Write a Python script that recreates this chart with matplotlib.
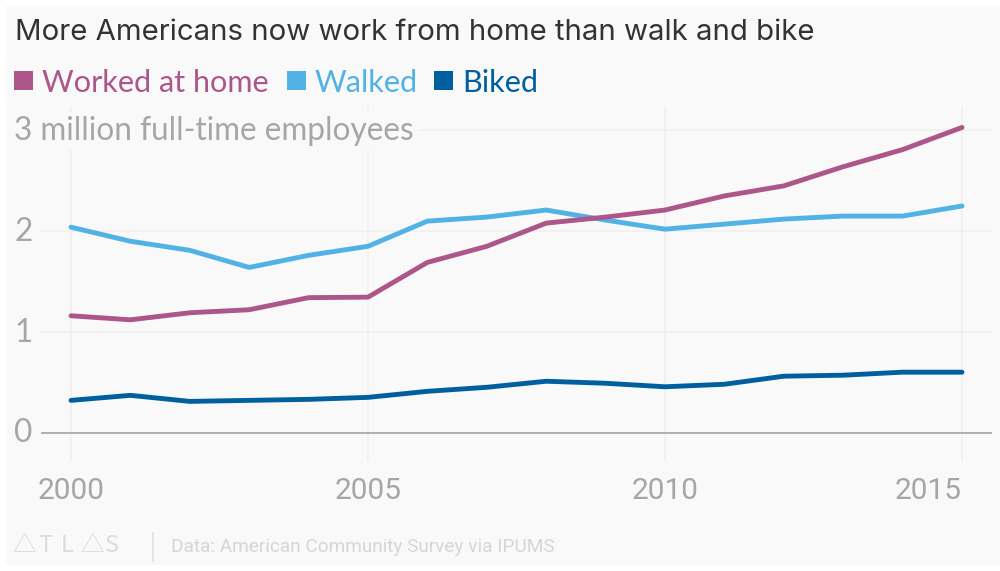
import matplotlib.pyplot as plt
from matplotlib.patches import Rectangle

years = list(range(2000, 2016))
home = [1.16, 1.12, 1.19, 1.22, 1.34, 1.345, 1.69, 1.85, 2.08, 2.14, 2.21, 2.35, 2.45, 2.64, 2.81, 3.03]
walked = [2.04, 1.90, 1.81, 1.64, 1.76, 1.85, 2.10, 2.14, 2.21, 2.11, 2.02, 2.07, 2.12, 2.15, 2.15, 2.25]
biked = [0.32, 0.37, 0.31, 0.32, 0.33, 0.35, 0.41, 0.45, 0.51, 0.49, 0.455, 0.48, 0.56, 0.57, 0.60, 0.60]
xticks = [2000, 2005, 2010, 2015]
yticks = [0, 1, 2, 3]
ylabels = ['0', '1', '2', '3 million full-time employees']

W, H = 1000, 571
PURPLE = '#AC5689'
LIGHT = '#51B2E5'
DARK = '#00609F'
BG = '#F9F9F9'
GRID = '#EFEFEF'
GREY = '#A6A6A6'


def fx(px):
    return px / W


def fy(py):
    return 1 - py / H


fig = plt.figure(figsize=(10, 5.71), dpi=100, facecolor='white')
fig.add_artist(Rectangle((fx(6), fy(565)), 994 / W, 559 / H, transform=fig.transFigure,
                         facecolor=BG, edgecolor='none', zorder=-5))

ax = fig.add_axes([fx(41), fy(460.6), 951 / W, 355 / H])
ax.patch.set_alpha(0)
ax.set_xlim(1999.495, 2015.505)
ax.set_ylim(-0.278, 3.247)
for s in ax.spines.values():
    s.set_visible(False)

ax.set_xticks(xticks)
ax.set_yticks(yticks)
ax.set_xticklabels([])
ax.set_yticklabels([])
ax.tick_params(length=0)
ax.grid(True, color=GRID, lw=1.1)
ax.set_axisbelow(True)
ax.axhline(0, color='#ABABAB', lw=1.3, zorder=1)

ax.plot(years, biked, color=DARK, lw=3.5, solid_capstyle='round', solid_joinstyle='round', zorder=3)
ax.plot(years, walked, color=LIGHT, lw=3.5, solid_capstyle='round', solid_joinstyle='round', zorder=3)
ax.plot(years, home, color=PURPLE, lw=3.5, solid_capstyle='round', solid_joinstyle='round', zorder=3)

# tick labels placed by hand so they sit over the gridlines like the original
for y, lab in zip(yticks, ylabels):
    ax.annotate(lab, (0, y), xycoords=('figure fraction', 'data'), xytext=(14 * 0.72, -0.5),
                textcoords='offset points', ha='left', va='center', fontsize=22.7, color=GREY,
                family='Lato', zorder=4, annotation_clip=False,
                bbox=dict(facecolor=BG, edgecolor='none', pad=3))
for x in xticks:
    # last label is pulled back inside the chart
    ha = 'right' if x == xticks[-1] else 'center'
    ax.annotate(str(x), (x, 0), xycoords=('data', 'figure fraction'), xytext=(0, (571 - 491) * 0.72),
                textcoords='offset points', ha=ha, va='center', fontsize=21.5, color=GREY,
                family='Roboto', annotation_clip=False)

fig.text(fx(15), fy(33), 'More Americans now work from home than walk and bike', fontsize=21.15,
         color='#333333', family='Inter', va='center', ha='left')

legend_names = ['Worked at home', 'Walked', 'Biked']
legend_colors = [PURPLE, LIGHT, DARK]
legend_x = [14, 287, 434]
for name, col, lx in zip(legend_names, legend_colors, legend_x):
    fig.add_artist(Rectangle((fx(lx), fy(90)), 19 / W, 19 / H, transform=fig.transFigure,
                             facecolor=col, edgecolor='none'))
    fig.text(fx(lx + 28), fy(83), name, fontsize=22.1, color=col, family='Lato',
             va='center', ha='left')

logo = ['△', 'T', 'L', '△', 'S']
logo_x = [12, 38, 61, 80, 105]
for ch, lx in zip(logo, logo_x):
    fig.text(fx(lx), fy(546), ch, fontsize=17, color='#DCDCDC', family=['Noto Sans CJK SC', 'DejaVu Sans'],
             va='center', ha='left')
fig.add_artist(plt.Line2D([fx(153), fx(153)], [fy(533), fy(561)], color='#DCDCDC', lw=1.1))
fig.text(fx(171), fy(547), 'Data: American Community Survey via IPUMS', fontsize=13.65, color='#D6D6D6',
         family='Roboto', va='center', ha='left')

fig.savefig('out.png', dpi=100, facecolor=fig.get_facecolor())
